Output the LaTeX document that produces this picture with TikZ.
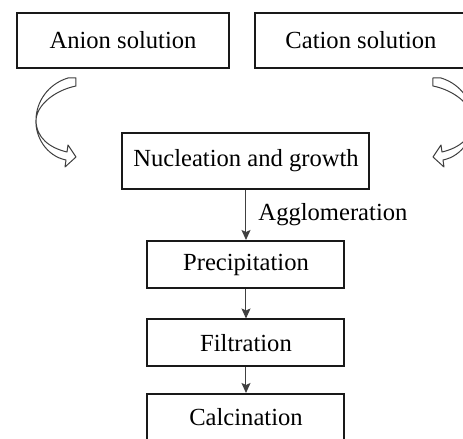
\documentclass[tikz,border=0pt]{standalone}
\usepackage{fontspec}
\setmainfont{Liberation Serif}
\usetikzlibrary{arrows.meta}

\begin{document}
\begin{tikzpicture}[x=0.5pt,y=-0.5pt,
		font=\fontsize{12.3}{14}\selectfont,
		stage/.style={draw=black!90,line width=1pt,inner sep=0pt,minimum height=23.5pt,minimum width=98.5pt},
		flow/.style={draw=black!75,line width=0.5pt,-{Stealth[length=5pt,width=4.5pt,inset=1pt]}},
		hollow/.style={draw=black!75,fill=white,line width=0.5pt,line join=round},
		note/.style={inner sep=0pt}]
		\useasboundingbox[fill=white] (0,0) rectangle (463,439);
		\clip (0,0) rectangle (463,439);
		% top row
		\node[stage,minimum width=106pt,minimum height=27.5pt] (anion) at (123,40.5) {Anion solution};
		\node[stage,minimum width=106pt,minimum height=27.5pt] (cation) at (361,40.5) {Cation solution};
		% main chain
		\node[stage,minimum width=123.5pt,minimum height=28pt] (nucleation) at (246,161) {Nucleation and growth};
		\node[stage] (precipitation) at (246,264.5) {Precipitation};
		\node[stage] (filtration) at (246,343) {Filtration};
		\node[stage] (calcination) at (246,417.5) {Calcination};
		\draw[flow] (nucleation) -- node[note,right=6pt] {Agglomeration} (precipitation);
		\draw[flow] (precipitation) -- (filtration);
		\draw[flow] (filtration) -- (calcination);
		% curved arrows
		\foreach \side/\flip in {0/1,509/-1}{
			\begin{scope}[shift={(\side,0)},xscale=\flip]
				\path[hollow] (68,78) .. controls (48,84) and (36,102) .. (36,120)
					.. controls (36,138) and (50,148) .. (67,152) -- (68,145) -- (76,157) -- (65,167) -- (66,160)
					.. controls (46,156) and (35,136) .. (36,120)
					.. controls (37,104) and (56,90) .. (76,86) -- (76,78) -- cycle;
			\end{scope}
		}
\end{tikzpicture}
\end{document}
